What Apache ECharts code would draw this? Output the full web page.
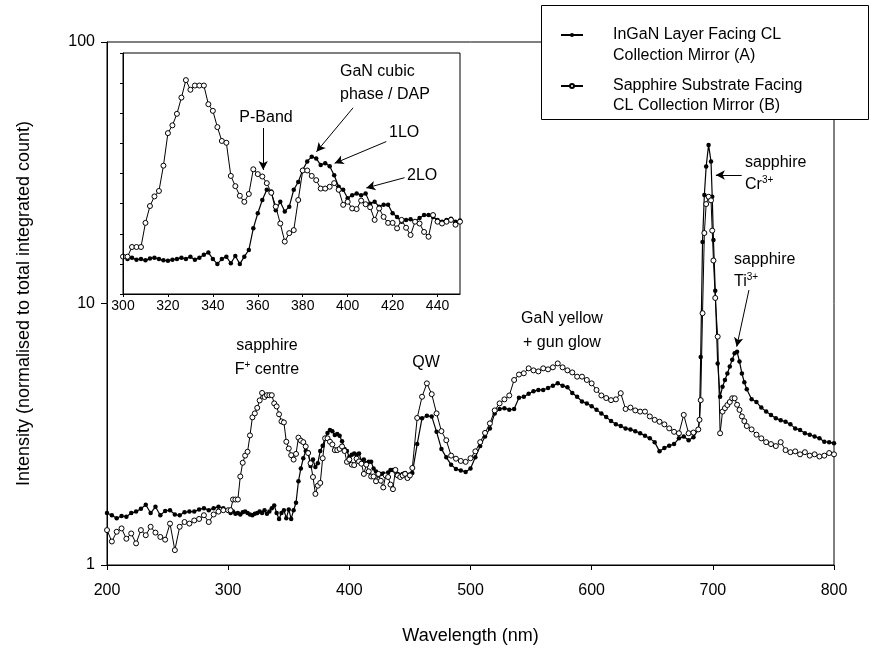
<!DOCTYPE html>
<html>
<head>
<meta charset="utf-8">
<script src="https://cdn.jsdelivr.net/npm/echarts@6/dist/echarts.min.js"></script>
<style>html,body{margin:0;padding:0;background:#fff}#c{width:871px;height:650px}</style>
</head>
<body>
<div id="c"></div>
<script>
// ---- data ----
const wavelength = [
  200,204,208,212,216,220,224,228,232,236,240,244,248,252,256,260,264,268,272,276,280,284,288,292,296,
  300,302,304,306,308,310,312,314,316,318,320,322,324,326,328,330,332,334,336,338,340,342,344,346,348,350,
  352,354,356,358,360,362,364,366,368,370,372,374,376,378,380,382,384,386,388,390,392,394,396,398,400,
  402,404,406,408,410,412,414,416,418,420,422,424,426,428,430,432,434,436,438,440,442,444,446,448,450,
  452,456,460,464,468,472,476,480,484,488,492,496,500,504,508,512,516,520,524,528,532,536,540,544,548,
  552,556,560,564,568,572,576,580,584,588,592,596,600,604,608,612,616,620,624,628,632,636,640,644,648,
  652,656,660,664,668,672,676,680,684,688,
  689,690,691.5,693,694.5,696.5,698.5,699.5,700.5,702,704,706,708,710,712,714,716,718,720,722,724,726,728,
  732,736,740,744,748,752,756,760,764,768,772,776,780,784,788,792,796,800
];
const intensityA = [
  1.58,1.55,1.51,1.54,1.53,1.58,1.60,1.64,1.70,1.58,1.67,1.55,1.61,1.62,1.56,1.55,1.59,1.60,1.60,1.63,1.65,1.62,1.65,1.67,1.65,
  1.62,1.58,1.60,1.57,1.58,1.56,1.59,1.60,1.58,1.56,1.55,1.57,1.58,1.60,1.58,1.62,1.57,1.60,1.65,1.69,1.58,1.50,1.58,1.62,1.51,1.63,
  1.50,1.62,1.73,2.09,2.34,2.56,2.73,2.70,2.39,2.53,2.37,2.45,2.73,2.86,3.06,3.20,3.28,3.25,3.14,3.17,3.12,2.97,2.78,2.73,2.59,
  2.64,2.67,2.64,2.67,2.50,2.53,2.45,2.48,2.48,2.34,2.28,2.20,2.23,2.24,2.20,2.26,2.31,2.31,2.28,2.23,2.20,2.23,2.25,2.20,2.22,
  2.25,2.90,3.64,3.72,3.70,3.23,2.78,2.58,2.42,2.33,2.30,2.27,2.34,2.58,2.85,3.10,3.33,3.80,3.95,3.98,3.92,3.95,4.36,4.40,4.52,
  4.62,4.67,4.67,4.75,4.85,4.95,4.85,4.78,4.55,4.40,4.22,4.15,4.05,3.92,3.80,3.68,3.55,3.45,3.40,3.33,3.30,3.25,3.19,3.12,3.05,
  2.95,2.72,2.80,2.86,2.90,3.05,3.10,3.00,3.08,3.30,
  3.59,6.25,17.2,26.0,33.4,40.4,34.9,25.6,17.5,11.2,5.9,4.4,4.8,5.1,5.4,5.74,6.1,6.45,6.54,6.0,5.4,5.0,4.7,
  4.3,4.2,4.0,3.86,3.75,3.64,3.58,3.53,3.45,3.33,3.28,3.19,3.15,3.10,3.05,2.96,2.95,2.92
];
const intensityB = [
  1.36,1.23,1.34,1.38,1.26,1.32,1.21,1.36,1.30,1.40,1.33,1.28,1.25,1.44,1.14,1.40,1.46,1.44,1.48,1.50,1.55,1.46,1.56,1.60,1.62,
  1.62,1.62,1.78,1.78,1.78,2.18,2.46,2.62,2.71,3.13,3.67,3.80,3.99,4.26,4.55,4.39,4.46,4.46,4.46,4.15,4.04,3.77,3.54,3.51,2.96,2.79,
  2.63,2.53,2.66,3.07,2.99,2.95,2.84,2.68,2.45,2.17,1.87,2.01,2.06,2.56,3.05,3.05,2.96,2.89,2.75,2.75,2.78,2.84,2.73,2.48,2.53,
  2.42,2.41,2.55,2.49,2.44,2.23,2.42,2.28,2.18,2.18,2.09,2.23,2.10,1.98,2.20,2.17,2.03,1.95,2.31,2.20,2.17,2.20,2.23,2.15,2.20,
  2.35,3.65,4.40,4.95,4.50,3.80,3.25,3.00,2.62,2.55,2.50,2.48,2.56,2.72,2.95,3.20,3.48,3.90,4.15,4.30,4.45,5.10,5.35,5.41,5.65,
  5.55,5.50,5.65,5.60,5.70,5.90,5.70,5.55,5.45,5.25,5.25,5.10,4.95,4.67,4.45,4.35,4.27,4.30,4.54,3.95,4.00,3.90,3.86,3.86,3.70,
  3.59,3.53,3.45,3.33,3.23,3.19,3.75,3.19,3.21,3.30,
  3.59,4.27,9.18,18.6,24.0,25.6,24.8,19.0,14.6,10.5,7.47,3.19,3.86,3.98,4.09,4.20,4.34,4.34,4.10,3.92,3.70,3.55,3.40,
  3.30,3.15,3.05,2.95,2.90,2.85,2.95,2.75,2.70,2.72,2.65,2.70,2.62,2.65,2.60,2.62,2.68,2.65
];
const seriesNames = ['InGaN Layer Facing CL\nCollection Mirror (A)', 'Sapphire Substrate Facing\nCL Collection Mirror (B)'];
const mainYTicks = [1, 10, 100];
const insetRange = [300, 450];

// ---- build ----
const FONT = 'Liberation Sans, Arial, Helvetica, sans-serif';
const dataA = wavelength.map((w, i) => [w, intensityA[i]]);
const dataB = wavelength.map((w, i) => [w, intensityB[i]]);
const inset = d => d.filter(p => p[0] >= insetRange[0] - 2 && p[0] <= insetRange[1] + 2);

const chart = echarts.init(document.getElementById('c'), null, {renderer: 'canvas'});
const arrow = (a, b) => [{coord: a}, {coord: b}];
const mlStyle = {color: '#000', width: 1, type: 'solid'};
const txt = (text, x, y, align, z, lh) => ({type: 'text', z: z, style: {text: text, x: x, y: y, textAlign: align, textVerticalAlign: 'middle',
  font: '16px ' + FONT, fill: '#000', lineHeight: lh || 24, rich: {s: {fontSize: 10, padding: [0, 0, 9, 0]}}}});

const lineA = {type: 'line', symbol: 'circle', symbolSize: 4.5, showSymbol: true,
  lineStyle: {color: '#000', width: 1.2}, itemStyle: {color: '#000'}, animation: false};
const lineB = {type: 'line', symbol: 'circle', symbolSize: 5, showSymbol: true,
  lineStyle: {color: '#000', width: 1}, itemStyle: {color: '#fff', borderColor: '#000', borderWidth: 1}, animation: false};

chart.setOption({
  backgroundColor: '#fff',
  animation: false,
  textStyle: {fontFamily: FONT},
  grid: [
    {left: 107, top: 42, width: 727, height: 523, show: true, borderColor: '#000', borderWidth: 1, z: 0},
    {left: 123, top: 53, width: 337, height: 241, show: true, backgroundColor: '#fff', borderColor: '#000', borderWidth: 1, z: 10}
  ],
  xAxis: [
    {type: 'value', gridIndex: 0, min: 200, max: 800, interval: 100,
     name: 'Wavelength (nm)', nameLocation: 'middle', nameGap: 62,
     nameTextStyle: {fontSize: 18, color: '#000', fontFamily: FONT},
     axisLine: {lineStyle: {color: '#000', width: 1}}, splitLine: {show: false},
     axisTick: {inside: false, length: 5, lineStyle: {color: '#000'}},
     axisLabel: {fontSize: 16, color: '#000', margin: 18, fontFamily: FONT}},
    {type: 'value', gridIndex: 1, min: insetRange[0], max: insetRange[1], interval: 20, z: 12,
     axisLine: {lineStyle: {color: '#000', width: 1}}, splitLine: {show: false},
     axisTick: {inside: false, length: 3, lineStyle: {color: '#000'}},
     axisLabel: {fontSize: 14, color: '#000', margin: 5, fontFamily: FONT, showMaxLabel: false}}
  ],
  yAxis: [
    {type: 'log', logBase: 10, gridIndex: 0, min: mainYTicks[0], max: mainYTicks[mainYTicks.length - 1],
     name: 'Intensity (normalised to total integrated count)', nameLocation: 'middle', nameGap: 74,
     nameTextStyle: {fontSize: 18, color: '#000', fontFamily: FONT},
     axisLine: {show: true, lineStyle: {color: '#000', width: 1}}, splitLine: {show: false},
     axisTick: {inside: false, length: 6, lineStyle: {color: '#000'}}, minorTick: {show: false},
     axisLabel: {fontSize: 16, color: '#000', margin: 12, fontFamily: FONT}},
    {type: 'value', gridIndex: 1, min: 1, max: 5, interval: 0.5, z: 12,
     axisLine: {show: true, lineStyle: {color: '#000', width: 1}}, splitLine: {show: false},
     axisTick: {inside: false, length: 3, lineStyle: {color: '#000'}},
     axisLabel: {show: false}}
  ],
  legend: {
    orient: 'vertical', left: 555, top: 20, z: 30, itemWidth: 22, itemHeight: 5, itemGap: 31,
    data: [seriesNames[0], seriesNames[1]],
    formatter: n => n.split('\n')[0],
    textStyle: {fontSize: 16, color: '#000', fontFamily: FONT, lineHeight: 20, height: 20, padding: [0, 0, 0, 25]},
    selectedMode: false
  },
  graphic: [
    {type: 'rect', z: 25, shape: {x: 541.5, y: 5.5, width: 327, height: 114},
     style: {fill: '#fff', stroke: '#000', lineWidth: 1}},
    txt(seriesNames[0].split('\n')[1], 613, 56, 'left', 31),
    txt(seriesNames[1].split('\n')[1], 613, 106, 'left', 31),
    txt('sapphire\nF{s|+} centre', 267, 358, 'center', 5),
    txt('QW', 426, 363, 'center', 5),
    txt('GaN yellow\n+ gun glow', 562, 331, 'center', 5),
    txt('sapphire\nCr{s|3+}', 745, 174, 'left', 5, 22),
    txt('sapphire\nTi{s|3+}', 734, 271, 'left', 5, 22),
    txt('P-Band', 266, 118, 'center', 40),
    txt('GaN cubic\nphase / DAP', 340, 83, 'left', 40, 23),
    txt('1LO', 389, 133, 'left', 40),
    txt('2LO', 407, 176, 'left', 40)
  ],
  series: [
    Object.assign({}, lineA, {name: seriesNames[0], xAxisIndex: 0, yAxisIndex: 0, z: 2, data: dataA,
      markLine: {silent: true, symbol: ['none', 'arrow'], symbolSize: [7, 9], lineStyle: mlStyle, label: {show: false},
        data: [arrow([723.8, 31.0], [702.5, 31.0]), arrow([729.8, 11.26], [719.7, 6.84])]}}),
    Object.assign({}, lineB, {name: seriesNames[1], xAxisIndex: 0, yAxisIndex: 0, z: 2, data: dataB}),
    Object.assign({}, lineA, {name: seriesNames[0], xAxisIndex: 1, yAxisIndex: 1, z: 11, data: inset(dataA),
      markLine: {silent: true, z: 13, symbol: ['none', 'arrow'], symbolSize: [7, 9], lineStyle: mlStyle, label: {show: false},
        data: [arrow([362.4, 3.755], [362.4, 3.06]), arrow([402.4, 4.09], [386.1, 3.36]),
               arrow([417.2, 3.53], [394.2, 3.17]), arrow([425.3, 2.93], [408.3, 2.76])]}}),
    Object.assign({}, lineB, {name: seriesNames[1], xAxisIndex: 1, yAxisIndex: 1, z: 11, data: inset(dataB)})
  ]
});
</script>
</body>
</html>
